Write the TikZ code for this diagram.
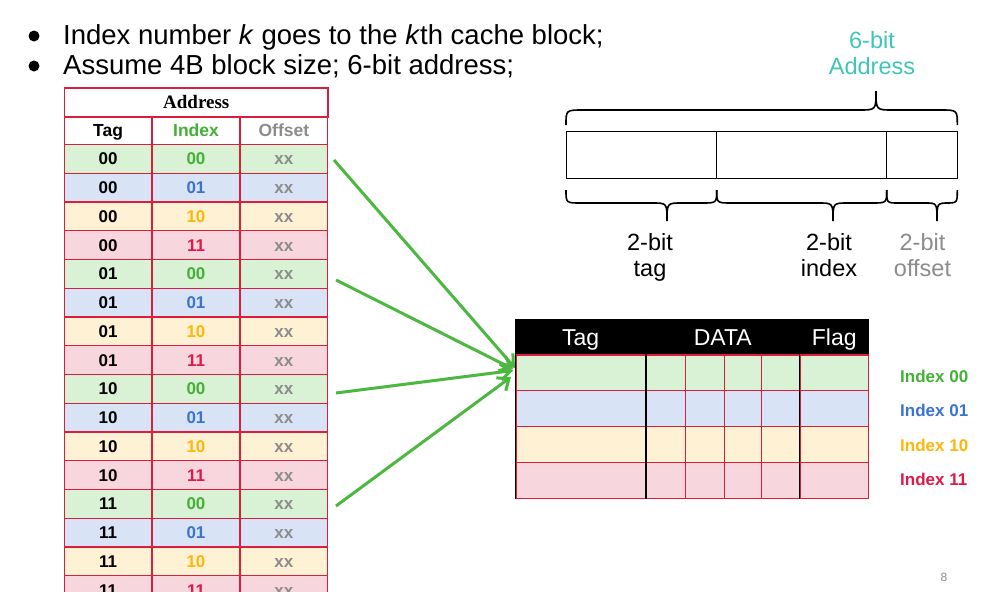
\documentclass[tikz,border=0pt]{standalone}
\usepackage{fontspec}
\setmainfont{Liberation Sans}
\newfontfamily\serifb{Liberation Serif}
\usetikzlibrary{arrows.meta}
\definecolor{bred}{RGB}{220,30,60}
\definecolor{idx0}{RGB}{67,177,53}
\definecolor{idx1}{RGB}{59,115,209}
\definecolor{idx2}{RGB}{255,182,10}
\definecolor{idx3}{RGB}{224,25,74}
\definecolor{fill0}{RGB}{217,241,212}
\definecolor{fill1}{RGB}{216,227,246}
\definecolor{fill2}{RGB}{255,241,211}
\definecolor{fill3}{RGB}{248,214,222}
\definecolor{gtext}{RGB}{140,140,140}
\definecolor{teal1}{RGB}{62,198,184}
\definecolor{garr}{RGB}{77,184,64}
\newcommand\twobits[1]{\ifcase#1\relax 00\or 01\or 10\or 11\fi}
\newcommand\mybrace[7]{\draw[bracel] (#1,#4) .. controls (#1,#5) .. (#1+#7,#5) -- (#3-#7,#5) .. controls (#3,#5) .. (#3,#6) .. controls (#3,#5) .. (#3+#7,#5) -- (#2-#7,#5) .. controls (#2,#5) .. (#2,#4);}
\tikzset{
  lcell/.style={draw=bred, line width=1.2pt, inner sep=0pt, minimum width=87.75pt, minimum height=28.75pt,
    text height=12.2pt, text depth=0pt, font=\fontsize{17}{19}\selectfont\bfseries},
  hcell/.style={lcell, fill=white, font=\fontsize{17.5}{19}\selectfont\bfseries, text height=12.5pt},
  ccell/.style={draw=bred, line width=1.2pt, inner sep=0pt, minimum height=35.8pt},
  chead/.style={draw=black, fill=black, line width=1.2pt, inner sep=0pt, minimum height=35.7pt,
    text=white, text height=16.5pt, text depth=0pt, font=\fontsize{23}{25}\selectfont},
  abox/.style={draw=black, line width=1pt, inner sep=0pt, minimum height=46.6pt},
  bracel/.style={draw=black, line width=1.6pt},
  lbl/.style={align=center, inner sep=0pt, anchor=base, font=\fontsize{23.5}{26}\selectfont},
  legend/.style={anchor=west, inner sep=0pt, font=\fontsize{17}{19}\selectfont\bfseries},
  bul/.style={anchor=base west, inner sep=0pt, font=\fontsize{27.5}{30}\selectfont},
  dot/.style={circle, fill=black, inner sep=0pt, minimum size=11pt},
  garrow/.style={draw=garr, line width=3pt, -{Straight Barb[length=10pt,width=16pt]}},
}
\begin{document}
\begin{tikzpicture}[x=1pt,y=-1pt]
\useasboundingbox (0,0) rectangle (986,592);
\clip (0,0) rectangle (986,592);
\fill[white] (0,0) rectangle (986,592);

% bullets
\node[dot] (d1) at (34,36) {};
\node[dot] (d2) at (34,66) {};
\node[bul] (b1) at (63,44) {Index number \textit{k} goes to the \textit{k}th cache block;};
\node[bul] (b2) at (63,74) {Assume 4B block size; 6-bit address;};

% left address table
\node[draw=bred, line width=1.2pt, fill=white, inner sep=0pt, minimum width=263.5pt, minimum height=28.5pt,
  text height=12.5pt, text depth=0pt, font=\fontsize{19}{21}\selectfont\serifb\bfseries] (addr) at (196.25,102.25) {Address};
\node[hcell] (htag) at (108.125,130.5) {Tag};
\node[hcell, text=idx0] (hidx) at (196,130.5) {Index};
\node[hcell, text=gtext] (hoff) at (283.875,130.5) {Offset};
\draw[bred, line width=2pt] (addr.south west) -- (addr.south east);
\foreach \i in {0,...,15}{
  \pgfmathtruncatemacro\t{\i/4}
  \pgfmathtruncatemacro\k{mod(\i,4)}
  \pgfmathsetmacro\yc{158.875+28.75*\i}
  \node[lcell, fill=fill\k] (t\i) at (108.125,\yc) {\twobits{\t}};
  \node[lcell, fill=fill\k, text=idx\k] (x\i) at (196,\yc) {\twobits{\k}};
  \node[lcell, fill=fill\k, text=gtext] (o\i) at (283.875,\yc) {xx};
}

% cache table header
\node[chead, minimum width=129.3pt] (ctag) at (580.65,337.15) {Tag};
\node[chead, minimum width=155pt] (cdata) at (722.8,337.15) {DATA};
\node[chead, minimum width=68pt] (cflag) at (834.3,337.15) {Flag};
\foreach \r in {0,1,2,3}{
  \pgfmathsetmacro\yc{372.9+35.8*\r}
  \foreach \xa/\xb [count=\j] in {516/645.3, 645.3/685.3, 685.3/724.3, 724.3/761.7, 761.7/800.3, 800.3/868.3}{
    \node[ccell, fill=fill\r, minimum width={\xb pt-\xa pt}] (c\r-\j) at ({(\xa+\xb)/2},\yc) {};
  }
}
\draw[black, line width=1.2pt] (ctag.north west) -- (c3-1.south west);
\draw[black, line width=1.2pt] (ctag.north east) -- (c3-1.south east);
\draw[black, line width=1.2pt] (cflag.north west) -- (c3-6.south west);

% legend
\node[legend, text=idx0] (l0) at (900,376) {Index 00};
\node[legend, text=idx1] (l1) at (900,410) {Index 01};
\node[legend, text=idx2] (l2) at (900,445) {Index 10};
\node[legend, text=idx3] (l3) at (900,479) {Index 11};

% address box
\node[abox, minimum width=150.7pt] (ab1) at (641.35,155) {};
\node[abox, minimum width=170pt] (ab2) at (801.7,155) {};
\node[abox, minimum width=70.6pt] (ab3) at (922,155) {};

% braces
\mybrace{566}{957.3}{876}{125}{110}{91}{17}
\mybrace{566}{716.7}{667}{190}{203}{221}{15}
\mybrace{716.7}{886.7}{833}{190}{203}{221}{15}
\mybrace{886.7}{957.3}{937}{190}{203}{221}{12}

% labels (base = last line's baseline)
\node[lbl, text=teal1] (l6) at (872,74) {6-bit\\Address};
\node[lbl] (ltag) at (650,276.7) {2-bit\\tag};
\node[lbl] (lidx) at (829,276.7) {2-bit\\index};
\node[lbl, text=gtext] (loff) at (922.5,276.7) {2-bit\\offset};

% arrows
\coordinate (s0) at (334,160);
\coordinate (s1) at (336,280);
\coordinate (s2) at (336,393);
\coordinate (s3) at (336,506);
\coordinate (e0) at (515,368);
\coordinate (e1) at (513,369);
\coordinate (e2) at (513,370.5);
\coordinate (e3) at (511,377);
\draw[garrow] (s0) -- (e0);
\draw[garrow] (s1) -- (e1);
\draw[garrow] (s2) -- (e2);
\draw[garrow] (s3) -- (e3);

% page number
\node[inner sep=0pt, text=gtext, font=\fontsize{12}{14}\selectfont] (pg) at (944,577) {8};
\end{tikzpicture}
\end{document}
